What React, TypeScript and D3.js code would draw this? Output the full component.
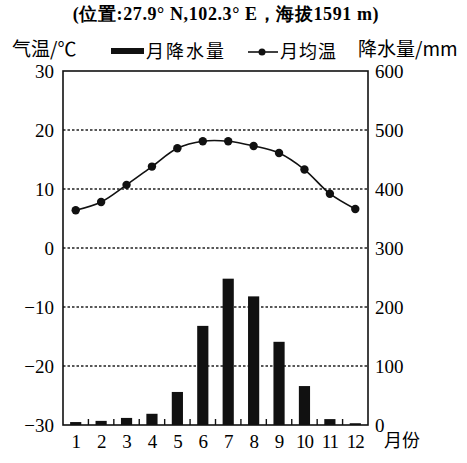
import React, { useEffect, useRef } from 'react';
import * as d3 from 'd3';

const months = ['1', '2', '3', '4', '5', '6', '7', '8', '9', '10', '11', '12'];
const temperature = [6.4, 7.8, 10.7, 13.8, 16.9, 18.1, 18.1, 17.3, 16.1, 13.3, 9.2, 6.6];
const precipitation = [5, 7, 12, 19, 56, 168, 248, 218, 141, 66, 10, 3];
const tempTicks = [30, 20, 10, 0, -10, -20, -30];
const precTicks = [600, 500, 400, 300, 200, 100, 0];

const serif = '"Liberation Serif", "DejaVu Serif", serif';
const cjk = '"Noto Sans CJK SC", sans-serif';

const App = () => {
  const svgRef = useRef<SVGSVGElement>(null);

  useEffect(() => {
    if (!svgRef.current) return;
    const svg = d3.select(svgRef.current);
    svg.selectAll('*').remove();

    const margin = { top: 71, right: 99, bottom: 38, left: 63 };
    const W = 467, H = 463;
    const width = W - margin.left - margin.right;
    const height = H - margin.top - margin.bottom;

    const x = d3.scaleBand().domain(months).range([0, width]).paddingInner(0.56).paddingOuter(0.28);
    const xc = d3.scaleBand().domain(months).range([0, width]);
    const yT = d3.scaleLinear().domain([-30, 30]).range([height, 0]);
    const yP = d3.scaleLinear().domain([0, 600]).range([height, 0]);

    const g = svg.append('g').attr('transform', `translate(${margin.left},${margin.top})`);

    // dotted grid lines
    g.selectAll('line.grid')
      .data([20, 10, 0, -10, -20])
      .enter()
      .append('line')
      .attr('x1', 0)
      .attr('x2', width)
      .attr('y1', d => yT(d))
      .attr('y2', d => yT(d))
      .attr('stroke', '#222')
      .attr('stroke-width', 1.6)
      .attr('stroke-dasharray', '2.5,2');

    // bars
    g.selectAll('rect.bar')
      .data(precipitation)
      .enter()
      .append('rect')
      .attr('x', (d, i) => x(months[i])!)
      .attr('width', x.bandwidth())
      .attr('y', d => yP(d))
      .attr('height', d => height - yP(d))
      .attr('fill', '#111');

    // frame
    g.append('rect')
      .attr('width', width)
      .attr('height', height)
      .attr('fill', 'none')
      .attr('stroke', '#111')
      .attr('stroke-width', 1.6);

    // small ticks on bottom between months
    g.selectAll('line.tick')
      .data(months.slice(1))
      .enter()
      .append('line')
      .attr('x1', d => xc(d)!)
      .attr('x2', d => xc(d)!)
      .attr('y1', height)
      .attr('y2', height - 6)
      .attr('stroke', '#111')
      .attr('stroke-width', 1.4);

    // temperature line
    const line = d3.line<number>()
      .x((d, i) => xc(months[i])! + xc.bandwidth() / 2)
      .y(d => yT(d))
      .curve(d3.curveCatmullRom);
    g.append('path')
      .datum(temperature)
      .attr('d', line)
      .attr('fill', 'none')
      .attr('stroke', '#111')
      .attr('stroke-width', 1.6);
    g.selectAll('circle')
      .data(temperature)
      .enter()
      .append('circle')
      .attr('cx', (d, i) => xc(months[i])! + xc.bandwidth() / 2)
      .attr('cy', d => yT(d))
      .attr('r', 4.2)
      .attr('fill', '#111');

    // left axis labels
    g.selectAll('text.lt')
      .data(tempTicks)
      .enter()
      .append('text')
      .attr('x', -9)
      .attr('y', d => yT(d))
      .attr('dy', '0.35em')
      .attr('text-anchor', 'end')
      .style('font-family', serif)
      .style('font-size', '19px')
      .text(d => (d < 0 ? '\u2212' + Math.abs(d) : String(d)));

    // right axis labels
    g.selectAll('text.rt')
      .data(precTicks)
      .enter()
      .append('text')
      .attr('x', width + 7)
      .attr('y', d => yP(d))
      .attr('dy', '0.35em')
      .style('font-family', serif)
      .style('font-size', '19px')
      .text(d => String(d));

    // month labels
    g.selectAll('text.m')
      .data(months)
      .enter()
      .append('text')
      .attr('x', d => xc(d)! + xc.bandwidth() / 2)
      .attr('y', height + 23)
      .attr('text-anchor', 'middle')
      .style('font-family', serif)
      .style('font-size', '19px')
      .style('letter-spacing', '-1px')
      .text(d => d);

    svg.append('text')
      .attr('x', 384)
      .attr('y', 447)
      .style('font-family', cjk)
      .style('font-size', '18px')
      .text('月份');

    // title
    svg.append('text')
      .attr('x', 226)
      .attr('y', 20)
      .attr('text-anchor', 'middle')
      .style('font-family', serif)
      .style('font-size', '18px')
      .style('font-weight', 'bold')
      .style('letter-spacing', '0.6px')
      .text('(位置:27.9° N,102.3° E，海拔1591 m)');

    // axis titles
    svg.append('text')
      .attr('x', 12)
      .attr('y', 56)
      .style('font-family', cjk)
      .style('font-size', '19px')
      .text('气温/℃');
    svg.append('text')
      .attr('x', 358)
      .attr('y', 56)
      .style('font-family', cjk)
      .style('font-size', '19px')
      .text('降水量/mm');

    // legend
    svg.append('rect')
      .attr('x', 111)
      .attr('y', 48)
      .attr('width', 33)
      .attr('height', 6)
      .attr('fill', '#111');
    svg.append('text')
      .attr('x', 146)
      .attr('y', 58)
      .style('font-family', cjk)
      .style('font-size', '18px')
      .style('letter-spacing', '2px')
      .text('月降水量');
    svg.append('line')
      .attr('x1', 248)
      .attr('x2', 278)
      .attr('y1', 52)
      .attr('y2', 52)
      .attr('stroke', '#111')
      .attr('stroke-width', 1.6);
    svg.append('circle')
      .attr('cx', 262)
      .attr('cy', 52)
      .attr('r', 3.5)
      .attr('fill', '#111');
    svg.append('text')
      .attr('x', 280)
      .attr('y', 58)
      .style('font-family', cjk)
      .style('font-size', '18px')
      .style('letter-spacing', '1px')
      .text('月均温');
  }, []);

  return (
    <svg
      ref={svgRef}
      width={467}
      height={463}
      style={{ position: 'absolute', left: 0, top: 0, background: '#fff' }}
    ></svg>
  );
};

export default App;
